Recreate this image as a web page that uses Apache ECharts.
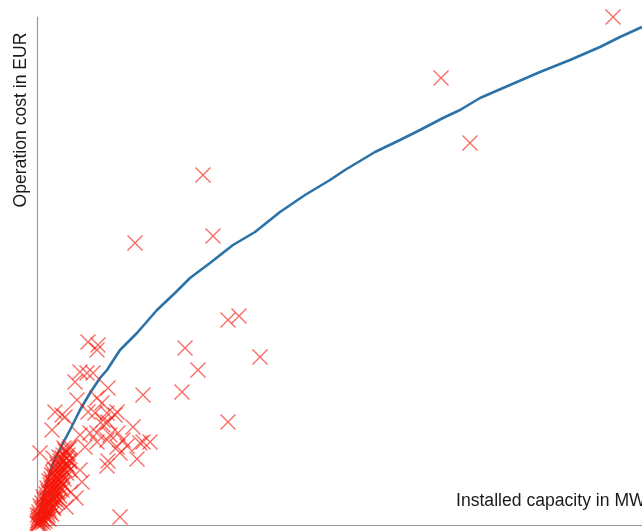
<!DOCTYPE html>
<html>
<head>
<meta charset="utf-8">
<script src="https://cdn.jsdelivr.net/npm/echarts@6/dist/echarts.min.js"></script>
<style>
  html, body { margin: 0; padding: 0; background: #fff; }
  #chart { width: 642px; height: 531px; }
</style>
</head>
<body>
<div id="chart"></div>
<script>
// Installed capacity (MW) and yearly operation cost (million EUR) per plant
const plants = [
  // large and mid-size plants
  [115.2, 25.4], [80.8, 22.35], [86.6, 19.1], [33.2, 17.5], [19.6, 14.1],
  [35.2, 14.45], [38.2, 10.25], [40.4, 10.45], [29.6, 8.85], [44.6, 8.4],
  [32.2, 7.75], [29.0, 6.65], [38.2, 5.15], [21.2, 6.5], [16.6, 0.4],
  [10.2, 9.15], [12.2, 9.0], [12.0, 8.75], [8.6, 7.65], [10.0, 7.6],
  [11.2, 7.6], [7.6, 7.15], [14.2, 6.85], [12.0, 6.35], [13.0, 6.1],
  [8.0, 6.25], [5.0, 5.5], [5.6, 5.4], [10.2, 5.65], [11.6, 5.6],
  [16.0, 5.65], [13.2, 5.25], [3.0, 4.75], [19.2, 4.9], [14.2, 5.15],
  [12.0, 4.6], [14.0, 4.25], [17.2, 4.25], [18.0, 3.95], [21.2, 4.15],
  [22.6, 4.15], [20.6, 4.1], [16.0, 3.9], [16.6, 3.6], [20.0, 3.3],
  [14.2, 3.2], [14.0, 2.95], [8.6, 4.5], [13.2, 5.0], [14.6, 4.5],
  [0.6, 3.6], [6.6, 3.9], [9.6, 3.9], [6.6, 2.75], [5.2, 2.0],
  [4.6, 1.25], [3.2, 0.9], [2.0, 0.4], [10.6, 4.6], [12.0, 4.15],
  [16.2, 4.6], [14.0, 5.6], [15.6, 5.5], [5.6, 3.75], [6.6, 3.15],
  [3.2, 3.35], [8.6, 2.75], [6.0, 3.0], [9.0, 2.15], [6.8, 1.65],
  [7.8, 1.35], [5.8, 0.9], [3.0, 1.75], [3.8, 2.4], [3.6, 5.65]
];

// small plants below ~7 MW
const smallPlants = [
  [0.05, 0.05], [0.4, 0.05], [0.1, 0.1], [0.6, 0.1], [1.2, 0.12],
  [0.15, 0.2], [0.8, 0.2], [1.6, 0.2], [0.3, 0.25], [1.1, 0.28],
  [0.2, 0.35], [1.0, 0.35], [1.8, 0.35], [0.5, 0.42], [2.4, 0.3],
  [0.1, 0.5], [0.6, 0.5], [1.4, 0.5], [2.2, 0.5], [2.9, 0.55],
  [0.4, 0.65], [1.2, 0.65], [2.0, 0.65], [2.6, 0.65],
  [0.8, 0.8], [1.6, 0.8], [2.4, 0.8], [1.2, 0.88], [3.3, 0.82],
  [0.6, 0.95], [1.4, 0.95], [2.2, 0.95], [3.0, 0.95], [1.8, 1.02],
  [1.0, 1.1], [1.8, 1.1], [2.6, 1.1], [3.6, 1.1], [4.2, 1.15],
  [1.4, 1.25], [2.2, 1.25], [3.0, 1.25], [1.9, 1.32], [3.5, 1.3],
  [1.2, 1.4], [2.0, 1.4], [2.8, 1.4], [3.8, 1.4], [4.5, 1.45],
  [1.8, 1.55], [2.6, 1.55], [3.4, 1.55], [2.3, 1.62], [4.1, 1.6],
  [2.2, 1.7], [3.0, 1.7], [4.0, 1.7], [3.5, 1.78], [5.0, 1.75],
  [2.0, 1.85], [2.8, 1.85], [3.6, 1.85], [4.6, 1.85],
  [2.6, 2.0], [3.4, 2.0], [4.2, 2.0], [3.1, 2.08], [5.1, 2.05],
  [3.0, 2.15], [3.8, 2.15], [4.8, 2.15], [2.4, 2.2],
  [2.8, 2.3], [3.6, 2.3], [4.4, 2.3], [5.4, 2.3],
  [3.4, 2.45], [4.2, 2.45], [5.2, 2.45], [2.9, 2.5],
  [3.2, 2.6], [4.0, 2.6], [4.8, 2.6], [5.9, 2.6],
  [3.8, 2.75], [4.6, 2.75], [5.6, 2.75], [3.4, 2.8],
  [4.2, 2.9], [5.0, 2.9], [6.2, 2.92],
  [4.0, 3.05], [4.8, 3.05], [5.8, 3.05],
  [4.6, 3.2], [5.4, 3.2], [6.5, 3.22],
  [5.0, 3.35], [6.0, 3.35], [4.4, 3.4],
  [5.2, 3.5], [6.2, 3.5],
  [5.8, 3.65], [6.4, 3.8], [5.4, 3.85]
];

// fitted cost curve
const fitCapacity = [0, 0.6, 1.6, 3.2, 5.2, 6.6, 8.6, 10.6, 12.6, 14, 16.6, 20, 24, 27.6,
  30.6, 34.6, 39.2, 43.6, 48.6, 53.6, 58.6, 61.6, 67.6, 72.6, 76.6, 81.2, 84.6,
  88.6, 94.6, 100.6, 106.6, 112.6, 116.6, 121];
const fitCost = [0, 0.75, 1.75, 3.1, 4.1, 4.75, 5.75, 6.6, 7.35, 7.75, 8.75, 9.6, 10.75, 11.6,
  12.35, 13.1, 14, 14.65, 15.65, 16.5, 17.25, 17.75, 18.65, 19.25, 19.75, 20.35, 20.75,
  21.35, 22, 22.65, 23.25, 23.9, 24.4, 24.9];

const xLabel = 'Installed capacity in MW';
const yLabel = 'Operation cost in EUR';

const crossSymbol = 'path://M0,0L10,10M10,0L0,10';
const markerStyle = {
  color: 'rgba(0,0,0,0)',
  borderColor: 'rgba(245,22,10,0.8)',
  borderWidth: 1.4
};

const chart = echarts.init(document.getElementById('chart'), null, { renderer: 'canvas' });

const axisBase = {
  type: 'value',
  min: 0,
  axisLine: { show: true, onZero: false, lineStyle: { color: '#9a9a9a', width: 1.2 } },
  axisTick: { show: false },
  axisLabel: { show: false },
  splitLine: { show: false }
};

chart.setOption({
  animation: false,
  backgroundColor: '#ffffff',
  grid: { left: 37, right: 0, top: 17, bottom: 6 },
  xAxis: Object.assign({}, axisBase, { max: 121 }),
  yAxis: Object.assign({}, axisBase, { max: 25.4 }),
  series: [
    {
      type: 'line',
      data: fitCapacity.map((c, i) => [c, fitCost[i]]),
      showSymbol: false,
      symbol: 'none',
      clip: false,
      lineStyle: { color: '#2d72a7', width: 2.6 },
      z: 2
    },
    {
      type: 'scatter',
      data: smallPlants,
      symbol: crossSymbol,
      symbolSize: 15,
      clip: false,
      itemStyle: markerStyle,
      z: 3
    },
    {
      type: 'scatter',
      data: plants,
      symbol: crossSymbol,
      symbolSize: 15,
      clip: false,
      itemStyle: markerStyle,
      z: 3
    }
  ],
  graphic: [
    {
      type: 'text',
      x: 456, y: 501,
      style: {
        text: xLabel,
        font: '17.6px "Liberation Sans", Arial, sans-serif',
        fill: '#1a1a1a',
        textAlign: 'left',
        textVerticalAlign: 'middle'
      }
    },
    {
      type: 'text',
      x: 21, y: 120,
      rotation: Math.PI / 2,
      style: {
        text: yLabel,
        font: '17.6px "Liberation Sans", Arial, sans-serif',
        fill: '#1a1a1a',
        textAlign: 'center',
        textVerticalAlign: 'middle'
      }
    }
  ]
});
</script>
</body>
</html>
